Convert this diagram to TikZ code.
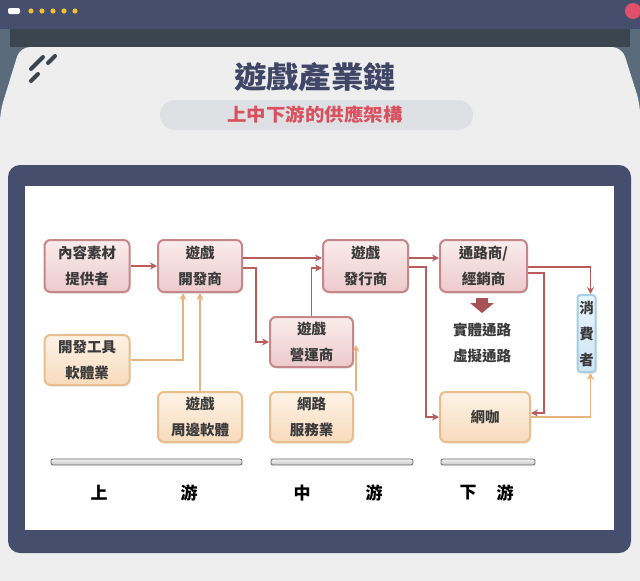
\documentclass[tikz,border=0pt]{standalone}
\usepackage{fontspec}
\newfontfamily\cjk{Noto Sans CJK TC}
\usetikzlibrary{calc}
\usetikzlibrary{arrows.meta}
\usetikzlibrary{shadows}
\usetikzlibrary{positioning}

\definecolor{navy}{HTML}{464E6E}
\definecolor{darkstrip}{HTML}{3A4550}
\definecolor{slate}{HTML}{5A6C7B}
\definecolor{panel}{HTML}{EEEEEE}
\definecolor{titlenavy}{HTML}{3F4666}
\definecolor{subred}{HTML}{D9505F}
\definecolor{pillgray}{HTML}{DFE0E3}
\definecolor{txtgray}{HTML}{3A3A3A}
\definecolor{pinkline}{HTML}{C7868A}
\definecolor{pinktop}{HTML}{FAECEC}
\definecolor{pinkbot}{HTML}{EDCACC}
\definecolor{orangeline}{HTML}{E9BD8E}
\definecolor{orangetop}{HTML}{FDF2E5}
\definecolor{orangebot}{HTML}{F8DBBD}
\definecolor{blueline}{HTML}{A5CDE4}
\definecolor{bluetop}{HTML}{E8F4FB}
\definecolor{bluebot}{HTML}{CFE6F4}
\definecolor{redarrow}{HTML}{B85C5E}
\definecolor{orangearrow}{HTML}{E9B37F}
\definecolor{dotyellow}{HTML}{F2C12E}
\definecolor{dotred}{HTML}{E0506A}

\begin{document}
\begin{tikzpicture}[x=1pt,y=-1pt,
    box/.style={rounded corners=6pt, line width=2pt, align=center,
      font=\cjk\bfseries\fontsize{14.5}{26}\selectfont, text=txtgray,
      drop shadow={opacity=0.2, shadow xshift=1pt, shadow yshift=-1.5pt}},
    pinkbox/.style={box, draw=pinkline, top color=pinktop, bottom color=pinkbot,
      minimum width=85pt, minimum height=52pt},
    orangebox/.style={box, draw=orangeline, top color=orangetop, bottom color=orangebot,
      minimum width=85pt, minimum height=50pt},
    bluebox/.style={box, draw=blueline, top color=bluetop, bottom color=bluebot,
      rounded corners=3pt, minimum width=18pt, minimum height=77pt, inner sep=1pt},
    redline/.style={draw=redarrow, line width=1.8pt, -{Stealth[length=7pt,width=7pt]}},
    orangelink/.style={draw=orangearrow, line width=1.8pt, -{Stealth[length=7pt,width=7pt]}},
    bar/.style={draw=gray!80!black, line width=0.8pt, top color=gray!10, bottom color=gray!45, rounded corners=2pt},
    tier/.style={font=\cjk\bfseries\fontsize{17}{17}\selectfont, text=black}
  ]
  \useasboundingbox (0,0) rectangle (640,581);
  % window
  \fill[panel] (0,0) rectangle (640,581);
  \fill[slate] (0,29) rectangle (640,130);
  \fill[darkstrip] (10,29) rectangle (630,47);
  \fill[panel, rounded corners=10pt] (0,112) -- (20,47) -- (622,47) -- (640,104)
    -- (640,581) -- (0,581) -- cycle;
  \fill[navy] (0,0) rectangle (640,29);
  \fill[white, rounded corners=2pt] (8,8) rectangle (20,14);
  \foreach \x in {31,42,53,64,75}
    \fill[dotyellow] (\x,11) circle (2.6pt);
  \fill[dotred] (633,11) circle (8pt);
  \draw[line width=4pt, line cap=round, draw=darkstrip] (31,69) -- (43,57)
    (48,63) -- (55,56) (31,81) -- (38,74);

  % title
  \node[font=\cjk\bfseries\fontsize{30}{30}\selectfont, text=titlenavy, xscale=1.08] (title) at (315,77) {遊戲產業鏈};
  \fill[pillgray, rounded corners=15pt] (160,100) rectangle (473,130);
  \node[font=\cjk\bfseries\fontsize{18}{18}\selectfont, text=subred, xscale=1.08] (sub) at (315,115) {上中下游的供應架構};

  % frame
  \fill[navy, rounded corners=12pt] (8,165) rectangle (631,553);
  \fill[white] (25,186) rectangle (614,530);

  % nodes
  \node[pinkbox] (cont) at (87,266) {內容素材\\提供者};
  \node[pinkbox, minimum width=84pt] (dev) at (200,266) {遊戲\\開發商};
  \node[orangebox] (tool) at (87,360) {開發工具\\軟體業};
  \node[orangebox, minimum width=84pt] (peri) at (200,417) {遊戲\\周邊軟體};
  \node[pinkbox, minimum width=83pt, minimum height=50pt] (ops) at (311.5,342) {遊戲\\營運商};
  \node[orangebox, minimum width=83pt] (net) at (311.5,417) {網路\\服務業};
  \node[pinkbox] (pub) at (365.5,266) {遊戲\\發行商};
  \node[pinkbox, minimum width=87pt] (dist) at (483.5,266) {通路商/\\經銷商};
  \node[orangebox, minimum width=90pt] (cafe) at (485,417) {網咖};
  \node[bluebox] (cons) at (586.5,333.5) {消\\費\\者};

  \fill[redarrow!90!black] (476,298) -- (488,298) -- (488,303) -- (494,303) -- (482,313)
    -- (470,303) -- (476,303) -- cycle;
  \node[font=\cjk\bfseries\fontsize{14.5}{26}\selectfont, text=txtgray, align=center] (chan) at (482,343) {實體通路\\虛擬通路};

  % links
  \draw[redline] (cont.east) -- (dev.west);
  \draw[redline] ($(dev.east)+(0,-8)$) -- ($(pub.west)+(0,-8)$);
  \draw[redline] ($(dev.east)+(0,2)$) -- ++(13,0) |- (ops.west);
  \draw[redline] (ops.north) |- ($(pub.west)+(0,2)$);
  \draw[redline] ($(pub.east)+(0,-8)$) -- ($(dist.west)+(0,-8)$);
  \draw[redline] ($(pub.east)+(0,1)$) -- ++(17,0) |- (cafe.west);
  \draw[redline] ($(dist.east)+(0,1)$) -| ($(cons.north)+(4,0)$);
  \draw[redline] ($(dist.east)+(0,7)$) -- ++(16,0) |- ($(cafe.east)+(0,-4)$);
  \draw[orangelink] (cafe.east) -| ($(cons.south)+(4,0)$);
  \draw[orangelink] (tool.east) -| ($(dev.south)+(-17,0)$);
  \draw[orangelink] (peri.north) -- (dev.south);
  \draw[orangelink] ($(net.north east)+(2,0)$) -- ($(ops.east)+(2,3)$);

  % tiers
  \draw[bar] (51,459) rectangle (242,465);
  \draw[bar] (271,459) rectangle (413,465);
  \draw[bar] (441,459) rectangle (535,465);
  \node[tier] (up1) at (99,493) {上};
  \node[tier] (up2) at (189,493) {游};
  \node[tier] (mid1) at (302,493) {中};
  \node[tier] (mid2) at (374,493) {游};
  \node[tier] (down1) at (468,493) {下};
  \node[tier] (down2) at (505,493) {游};
\end{tikzpicture}
\end{document}
